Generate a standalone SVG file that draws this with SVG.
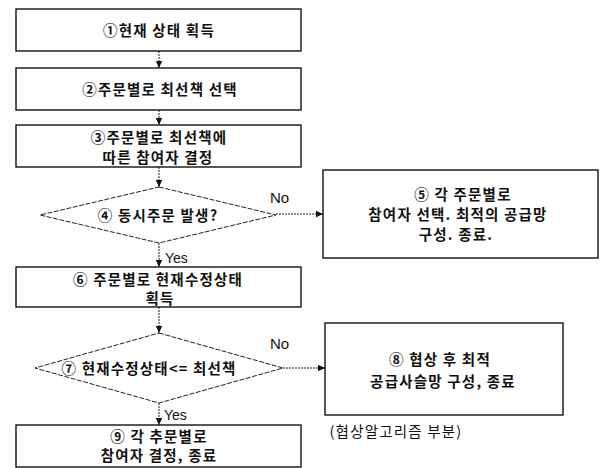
<svg xmlns="http://www.w3.org/2000/svg" width="603" height="468" viewBox="0 0 603 468">
<defs>
<style>
.box{fill:#fff;stroke:#111;stroke-width:1.4}
.dia{fill:#fff;stroke:#222;stroke-width:1;stroke-dasharray:5 1.5}
.t{font-family:"Noto Sans CJK KR","Noto Sans",sans-serif;font-size:14.5px;font-weight:700;letter-spacing:1.2px;fill:#111;text-anchor:middle}
.l{font-family:"Liberation Sans",Arial,sans-serif;font-size:15px;fill:#111}
.c{fill:none;stroke:#222;stroke-width:1;stroke-dasharray:2 1}
</style>
<marker id="ah" markerWidth="8" markerHeight="8" refX="7" refY="4" orient="auto" markerUnits="userSpaceOnUse">
<path d="M0,0.8 L7,4 L0,7.2 Z" fill="#111"/>
</marker>
</defs>
<rect width="603" height="468" fill="#fff"/>
<g id="connectors">
<line class="c" x1="159" y1="51" x2="159" y2="68" marker-end="url(#ah)"/>
<line class="c" x1="159" y1="110" x2="159" y2="125" marker-end="url(#ah)"/>
<line class="c" x1="159" y1="167" x2="159" y2="187" marker-end="url(#ah)"/>
<line class="c" x1="159" y1="243" x2="159" y2="267" marker-end="url(#ah)"/>
<line class="c" x1="159" y1="307" x2="159" y2="333" marker-end="url(#ah)"/>
<line class="c" x1="159" y1="403" x2="159" y2="425" marker-end="url(#ah)"/>
<line class="c" x1="276" y1="214" x2="323" y2="214" marker-end="url(#ah)"/>
<line class="c" x1="283" y1="368" x2="325" y2="368" marker-end="url(#ah)"/>
<text class="l" x="270" y="203">No</text>
<text class="l" x="270" y="349">No</text>
<text class="l" x="165" y="263" style="font-size:14px">Yes</text>
<text class="l" x="164" y="420" style="font-size:14px">Yes</text>
</g>
<g id="n1">
<rect class="box" x="16" y="9" width="285" height="42"/>
<text class="t" x="159" y="36">①현재 상태 획득</text>
</g>
<g id="n2">
<rect class="box" x="16" y="68" width="285" height="42"/>
<text class="t" x="160" y="95">②주문별로 최선책 선택</text>
</g>
<g id="n3">
<rect class="box" x="16" y="125" width="285" height="42"/>
<text class="t" x="159" y="143">③주문별로 최선책에</text>
<text class="t" x="158" y="163">따른 참여자 결정</text>
</g>
<g id="n4">
<polygon class="dia" points="159,187 276,215 159,243 40,215"/>
<text class="t" x="158" y="221">④ 동시주문 발생?</text>
</g>
<g id="n5">
<rect class="box" x="323" y="170" width="275" height="88"/>
<text class="t" x="463" y="200">⑤ 각 주문별로</text>
<text class="t" x="458" y="220">참여자 선택. 최적의 공급망</text>
<text class="t" x="456" y="240">구성. 종료.</text>
</g>
<g id="n6">
<rect class="box" x="16" y="267" width="285" height="40"/>
<text class="t" x="158" y="285">⑥ 주문별로 현재수정상태</text>
<text class="t" x="160" y="304">획득</text>
</g>
<g id="n7">
<polygon class="dia" points="159,333 283,368 159,403 35,368"/>
<text class="t" x="149" y="374">⑦ 현재수정상태&lt;= 최선책</text>
</g>
<g id="n8">
<rect class="box" x="325" y="323" width="238" height="92"/>
<text class="t" x="440" y="365">⑧ 협상 후 최적</text>
<text class="t" x="443" y="387">공급사슬망 구성, 종료</text>
<text class="t" x="396" y="437" style="font-weight:400">(협상알고리즘 부분)</text>
</g>
<g id="n9">
<rect class="box" x="16" y="425" width="285" height="42"/>
<text class="t" x="159" y="442">⑨ 각 추문별로</text>
<text class="t" x="159" y="461">참여자 결정, 종료</text>
</g>
</svg>
